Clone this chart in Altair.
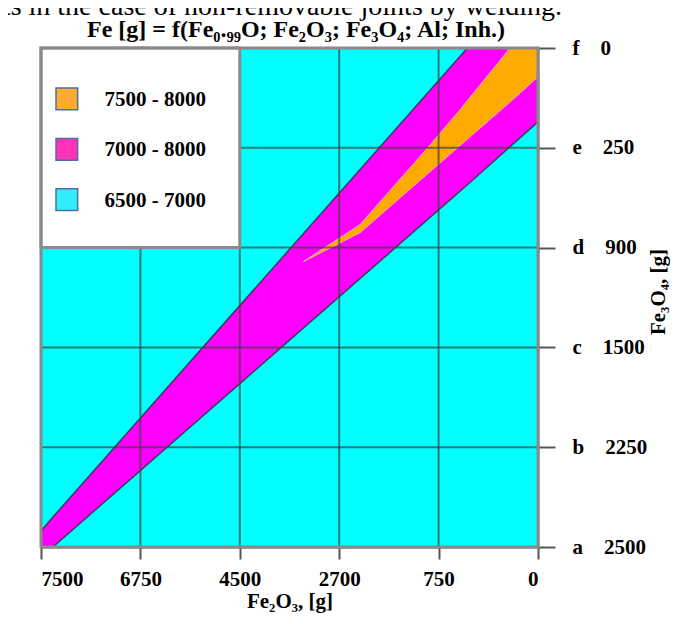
import altair as alt
import pandas as pd

# ---- data ----
grid_ticks = [0, 1, 2, 3, 4, 5]
fe2o3_labels = ["7500", "6750", "4500", "2700", "750", "0"]
fe3o4_letters = ["a", "b", "c", "d", "e", "f"]
fe3o4_values = ["2500", "2250", "1500", "900", "250", "0"]

magenta_x = [0.0, 0.12, 4.29, 5.0]
magenta_upper = [0.16, 0.30, 5.0, 5.0]
magenta_lower = [0.0, 0.0, 3.63, 4.26]

orange_x = [2.64, 3.21, 3.89, 4.19, 4.72, 5.0]
orange_upper = [2.86, 3.23, 4.00, 4.35, 5.0, 5.0]
orange_lower = [2.86, 3.15, 3.74, 4.00, 4.46, 4.71]

legend_labels = ["7500 - 8000", "7000 - 8000", "6500 - 7000"]
legend_colors = ["#FFAA33", "#FF33BB", "#33EEFF"]

title_line = "the components in the case of non-removable joints by welding."
subtitle = "Fe [g] = f(Fe\u2080.\u2089\u2089O; Fe\u2082O\u2083; Fe\u2083O\u2084; Al; Inh.)"
x_title = "Fe\u2082O\u2083, [g]"
y_title = "Fe\u2083O\u2084, [g]"

FONT = "Liberation Serif"
W, H = 497, 499

xs = alt.Scale(domain=[0, 5], nice=False, zero=False)
ys = alt.Scale(domain=[0, 5], nice=False, zero=False)

nb = "\u00a0"
x_label_expr = "[" + ",".join(f"'{v}'" for v in fe2o3_labels) + "][datum.value]"
y_label_expr = "[" + ",".join(
    f"'{l}{nb*4}{v}'" for l, v in zip(fe3o4_letters, fe3o4_values)) + "][datum.value]"

x_axis = alt.Axis(values=grid_ticks, labelExpr=x_label_expr, grid=False,
                  tickSize=12, tickWidth=2, tickColor="#555",
                  domainColor="#666", domainWidth=2,
                  labelFont=FONT, labelFontWeight="bold", labelFontSize=21,
                  labelColor="black", labelPadding=9, labelBaseline="top",
                  title=x_title, titleFont=FONT, titleFontWeight="bold",
                  titleFontSize=21, titleColor="black", titlePadding=1)
y_axis = alt.Axis(orient="right", values=grid_ticks, labelExpr=y_label_expr,
                  grid=False, tickSize=17, tickWidth=2, tickColor="#555",
                  domainColor="#666", domainWidth=2,
                  labelFont=FONT, labelFontWeight="bold", labelFontSize=21,
                  labelColor="black", labelPadding=17, labelAlign="left",
                  labelBaseline="middle",
                  title=y_title, titleFont=FONT, titleFontWeight="bold",
                  titleFontSize=21, titleColor="black", titleAngle=270,
                  titleX=120, titleY=H / 2 - 6, titleAlign="center",
                  titleBaseline="middle")


def X(field):
    return alt.X(field, scale=xs, axis=x_axis)


def Y(field):
    return alt.Y(field, scale=ys, axis=y_axis)


bg_df = pd.DataFrame({"x": [grid_ticks[0]], "x2": [grid_ticks[-1]],
                      "y": [grid_ticks[0]], "y2": [grid_ticks[-1]]})
background = alt.Chart(bg_df).mark_rect(color="#00FFFF").encode(
    x=X("x:Q"), x2="x2:Q", y=Y("y:Q"), y2="y2:Q")

mag_df = pd.DataFrame({"x": magenta_x, "hi": magenta_upper, "lo": magenta_lower})
magenta = alt.Chart(mag_df).mark_area(
    color="#FF00FF", stroke="#333333", strokeWidth=1.5, strokeOpacity=0.85,
    interpolate="linear").encode(x=X("x:Q"), y=Y("hi:Q"), y2="lo:Q")

or_df = pd.DataFrame({"x": orange_x, "hi": orange_upper, "lo": orange_lower})
orange = alt.Chart(or_df).mark_area(
    color="#FFAA00", stroke="#FFB8A0", strokeWidth=1,
    interpolate="linear").encode(x=X("x:Q"), y=Y("hi:Q"), y2="lo:Q")

inner = pd.DataFrame({"v": grid_ticks[1:-1]})
vrules = alt.Chart(inner).mark_rule(color="#404040", opacity=0.7,
                                    strokeWidth=2).encode(x=X("v:Q"))
hrules = alt.Chart(inner).mark_rule(color="#404040", opacity=0.7,
                                    strokeWidth=2).encode(y=Y("v:Q"))

box_df = pd.DataFrame({"x": [grid_ticks[0]], "x2": [grid_ticks[2]],
                       "y": [grid_ticks[3]], "y2": [grid_ticks[5]]})
whitebox = alt.Chart(box_df).mark_rect(fill="white", stroke="#8a8a8a",
                                       strokeWidth=3).encode(
    x=X("x:Q"), x2="x2:Q", y=Y("y:Q"), y2="y2:Q")

frame = alt.Chart(bg_df).mark_rect(fillOpacity=0, stroke="#8a8a8a",
                                   strokeWidth=3).encode(
    x=X("x:Q"), x2="x2:Q", y=Y("y:Q"), y2="y2:Q")

leg_df = pd.DataFrame({"label": legend_labels, "color": legend_colors,
                       "i": list(range(len(legend_labels)))})
leg_base = alt.Chart(leg_df).transform_calculate(
    ly="4.49 - 0.505 * datum.i", lx="0.26", tx="0.64")
leg_sq = leg_base.mark_square(size=470, opacity=1, stroke="#4f6fa0",
                              strokeWidth=1.5).encode(
    x=X("lx:Q"), y=Y("ly:Q"), fill=alt.Fill("color:N", scale=None))
leg_tx = leg_base.mark_text(align="left", baseline="middle", font=FONT,
                            fontWeight="bold", fontSize=21, dy=1,
                            color="black").encode(
    x=X("tx:Q"), y=Y("ly:Q"), text="label:N")

txt_df = pd.DataFrame({"t": [title_line]})
top_line = alt.Chart(txt_df).mark_text(align="right", baseline="alphabetic",
                                       font=FONT, fontSize=28,
                                       color="black").encode(
    x=alt.value(521), y=alt.value(-33), text="t:N")
sub_df = pd.DataFrame({"t": [subtitle]})
sub_line = alt.Chart(sub_df).mark_text(align="center", baseline="alphabetic",
                                       font=FONT, fontWeight="bold",
                                       fontSize=24, color="black").encode(
    x=alt.value(255), y=alt.value(-11), text="t:N")

chart = alt.layer(
    background, magenta, orange, vrules, hrules, whitebox, frame,
    leg_sq, leg_tx, top_line, sub_line,
).properties(
    width=W, height=H,
    padding={"left": 33, "top": 40, "right": 150, "bottom": 68},
    autosize=alt.AutoSizeParams(type="none"),
).configure_view(stroke=None)

chart.save("out.html", embed_options={"renderer": "svg", "actions": False})
